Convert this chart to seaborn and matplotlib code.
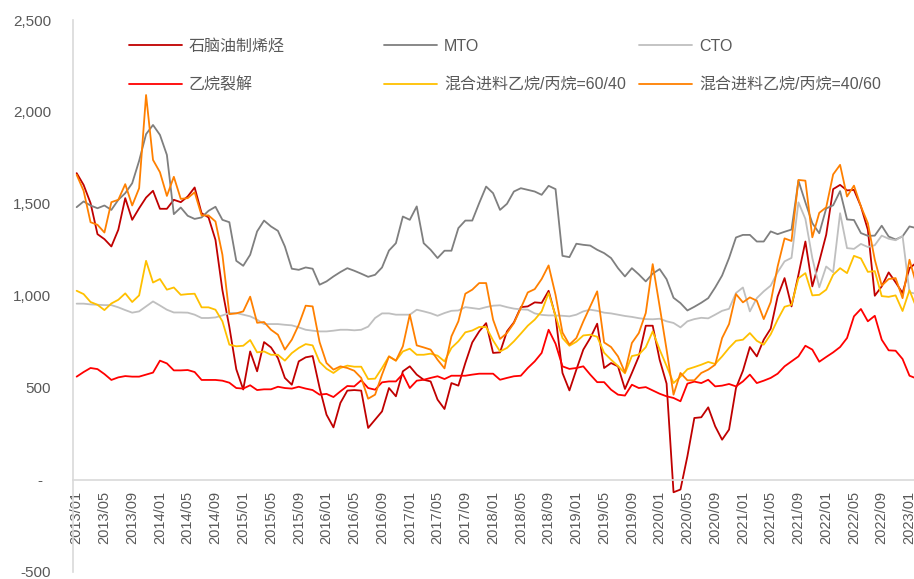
import numpy as np
import pandas as pd
import matplotlib
matplotlib.use("Agg")
import matplotlib.pyplot as plt
from matplotlib.ticker import FuncFormatter, FixedLocator
import seaborn as sns

# ---------------- data ----------------
months = [p.strftime("%Y/%m") for p in pd.period_range("2013-01", "2023-02", freq="M")]
tick_labels = months[0:121:4]

naphtha = [1667, 1603, 1504, 1335, 1308, 1268, 1359, 1531, 1413, 1476, 1534, 1571,
           1473, 1473, 1522, 1509, 1540, 1589, 1449, 1426, 1304, 1030, 830, 600,
           490, 697, 589, 748, 719, 661, 553, 516, 643, 665, 672, 500,
           353, 284, 417, 484, 487, 484, 281, 326, 371, 498, 453, 589,
           616, 571, 543, 534, 435, 384, 525, 511, 634, 746, 806, 851,
           689, 692, 806, 855, 938, 942, 964, 961, 1027, 888, 580, 485,
           598, 707, 770, 848, 607, 634, 616, 493, 580, 670, 837, 837,
           652, 522, -69, -54, 127, 335, 339, 393, 290, 217, 272, 498,
           592, 721, 670, 761, 821, 996, 1096, 942, 1114, 1295, 1051, 1187,
           1332, 1580, 1603, 1573, 1576, 1486, 1359, 1000, 1051, 1127, 1073, 1015,
           1150, 1180]

mto = [1482, 1513, 1491, 1476, 1491, 1467, 1522, 1558, 1612, 1734, 1879, 1929,
       1875, 1766, 1444, 1480, 1435, 1418, 1426, 1462, 1484, 1413, 1400, 1190,
       1163, 1223, 1350, 1409, 1377, 1353, 1268, 1147, 1141, 1154, 1147, 1060,
       1078, 1105, 1129, 1150, 1136, 1120, 1103, 1114, 1154, 1246, 1286, 1431,
       1413, 1486, 1286, 1250, 1205, 1245, 1245, 1368, 1409, 1409, 1504, 1594,
       1558, 1467, 1500, 1567, 1585, 1576, 1567, 1549, 1598, 1580, 1217, 1210,
       1283, 1277, 1273, 1250, 1232, 1205, 1150, 1105, 1150, 1116, 1078, 1120,
       1145, 1090, 989, 960, 920, 940, 962, 987, 1045, 1110, 1205, 1317,
       1331, 1331, 1295, 1295, 1350, 1335, 1348, 1360, 1626, 1508, 1395, 1340,
       1475, 1492, 1569, 1415, 1412, 1341, 1326, 1327, 1381, 1322, 1306, 1323,
       1377, 1368]

cto = [957, 957, 953, 951, 949, 949, 937, 922, 908, 915, 942, 969,
       947, 924, 909, 909, 908, 897, 879, 879, 882, 893, 906, 906,
       897, 888, 870, 846, 846, 846, 842, 839, 828, 815, 810, 806,
       806, 810, 815, 815, 812, 815, 832, 879, 904, 904, 897, 897,
       897, 924, 915, 905, 891, 906, 918, 920, 938, 933, 928, 938,
       946, 948, 938, 930, 926, 924, 904, 896, 893, 893, 891, 888,
       897, 915, 924, 918, 908, 904, 897, 890, 885, 878, 873, 872,
       875, 861, 852, 828, 861, 873, 880, 877, 897, 918, 929, 1015,
       1045, 915, 987, 1024, 1055, 1128, 1187, 1206, 1508, 1418, 1205, 1046,
       1159, 1128, 1449, 1259, 1255, 1282, 1265, 1275, 1327, 1310, 1302, 1325,
       1019, 1010]

ethane = [560, 585, 607, 601, 574, 542, 556, 563, 560, 560, 571, 582,
          647, 632, 594, 594, 596, 585, 542, 542, 542, 538, 527, 498,
          495, 513, 487, 491, 491, 505, 498, 495, 505, 495, 487, 462,
          466, 449, 480, 509, 507, 540, 498, 489, 529, 534, 534, 574,
          498, 538, 543, 553, 562, 547, 565, 565, 565, 571, 576, 576,
          576, 543, 553, 562, 565, 607, 643, 689, 815, 739, 616, 602,
          607, 616, 571, 530, 530, 489, 462, 457, 516, 498, 503, 485,
          467, 453, 444, 426, 522, 533, 525, 543, 507, 511, 520, 507,
          534, 571, 525, 538, 553, 576, 616, 643, 670, 728, 707, 641,
          667, 692, 721, 770, 888, 928, 861, 891, 761, 703, 701, 656,
          565, 550]

mix_60_40 = [1027, 1009, 966, 951, 922, 958, 978, 1013, 966, 1002, 1190, 1072,
             1091, 1033, 1045, 1005, 1009, 1011, 937, 937, 924, 861, 734, 725,
             728, 759, 692, 697, 679, 679, 647, 688, 716, 737, 730, 640,
             603, 580, 607, 620, 614, 614, 547, 549, 607, 670, 647, 697,
             712, 679, 679, 685, 674, 643, 716, 752, 801, 811, 830, 830,
             757, 697, 716, 752, 794, 837, 870, 915, 1015, 891, 770, 728,
             750, 784, 788, 777, 690, 652, 618, 578, 672, 680, 720, 806,
             707, 618, 525, 560, 600, 612, 625, 640, 629, 670, 716, 755,
             761, 797, 755, 734, 790, 870, 940, 951, 1095, 1123, 1002, 1005,
             1033, 1114, 1150, 1123, 1217, 1203, 1130, 1134, 998, 994, 1002, 917,
             1030, 935]

mix_40_60 = [1658, 1571, 1400, 1386, 1344, 1509, 1522, 1607, 1491, 1585, 2092, 1739,
             1672, 1543, 1647, 1527, 1531, 1563, 1437, 1437, 1404, 1223, 900, 904,
             915, 995, 853, 857, 815, 788, 707, 761, 842, 946, 942, 748,
             634, 598, 616, 607, 592, 553, 440, 462, 571, 670, 647, 725,
             897, 730, 719, 707, 652, 605, 779, 861, 1011, 1033, 1069, 1069,
             870, 765, 797, 851, 933, 1018, 1036, 1091, 1165, 1005, 800, 734,
             770, 860, 942, 1024, 746, 721, 670, 583, 743, 797, 906, 1172,
             942, 707, 462, 580, 540, 540, 580, 598, 625, 770, 846, 1009,
             964, 991, 973, 873, 965, 1159, 1312, 1298, 1630, 1626, 1318, 1451,
             1481, 1660, 1712, 1540, 1599, 1486, 1395, 1196, 1055, 1091, 1096, 987,
             1196, 1060]

series = [
    ("石脑油制烯烃", naphtha, "#C00000"),
    ("MTO", mto, "#7F7F7F"),
    ("CTO", cto, "#BFBFBF"),
    ("乙烷裂解", ethane, "#FF0000"),
    ("混合进料乙烷/丙烷=60/40", mix_60_40, "#FFC000"),
    ("混合进料乙烷/丙烷=40/60", mix_40_60, "#FF8000"),
]

# ---------------- style ----------------
sns.set_style("white")
plt.rcParams["font.family"] = ["Liberation Sans", "Noto Sans CJK SC"]
plt.rcParams["axes.unicode_minus"] = False

TXT = "#595959"
AXC = "#D9D9D9"

fig = plt.figure(figsize=(9.14, 5.79), dpi=100)
ax = fig.add_axes([72.5 / 914, 1 - 571.5 / 579, 841.5 / 914, (571.5 - 20) / 579])

x = np.arange(len(months))
handles = {}
for name, vals, col in series:
    sns.lineplot(x=x, y=vals, ax=ax, color=col, linewidth=1.3, legend=False)
    handles[name] = ax.lines[-1]

ax.set_xlim(-0.6, 120.65)
ax.set_ylim(-500, 2500)

# axes styling
for s in ["top", "right"]:
    ax.spines[s].set_visible(False)
ax.spines["left"].set_color(AXC)
ax.spines["left"].set_linewidth(1.2)
ax.spines["bottom"].set_position(("data", 0))
ax.spines["bottom"].set_color(AXC)
ax.spines["bottom"].set_linewidth(1.2)

ax.yaxis.set_major_locator(FixedLocator([-500, 0, 500, 1000, 1500, 2000, 2500]))
ax.yaxis.set_major_formatter(FuncFormatter(lambda v, p: "-  " if v == 0 else f"{int(v):,}"))
ax.tick_params(axis="y", direction="out", length=5, width=1.0, color=AXC,
               labelcolor=TXT, labelsize=11, pad=10.4)

ax.set_xticks(x[0:121:4])
ax.set_xticklabels(tick_labels, rotation=90)
ax.tick_params(axis="x", length=0, labelcolor=TXT, labelsize=10.5, pad=8)
ax.set_xlabel("")
ax.set_ylabel("")

# legend: three equal-width columns
cols = [("石脑油制烯烃", "乙烷裂解"),
        ("MTO", "混合进料乙烷/丙烷=60/40"),
        ("CTO", "混合进料乙烷/丙烷=40/60")]
col_x = [129, 384, 639]
for cx, names in zip(col_x, cols):
    leg = fig.legend([handles[n] for n in names], list(names),
                     loc="upper left", bbox_to_anchor=(cx / 914, 1 - 39 / 579),
                     frameon=False, borderpad=0, borderaxespad=0,
                     handlelength=3.3, handletextpad=0.45, labelspacing=1.45,
                     prop={"size": 11.5})
    for t in leg.get_texts():
        t.set_color(TXT)
    for l in leg.get_lines():
        l.set_linewidth(1.3)

fig.savefig("out.png", dpi=100)
